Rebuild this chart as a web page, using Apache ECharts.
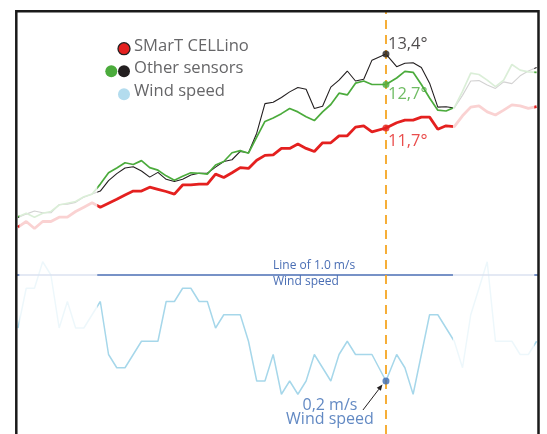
<!DOCTYPE html>
<html><head><meta charset="utf-8">
<script src="https://cdn.jsdelivr.net/npm/echarts/dist/echarts.min.js"></script>
<style>html,body{margin:0;padding:0;background:#fff}#c{width:547px;height:434px}</style>
</head><body><div id="c"></div>
<script>
// sample positions (the highlighted reading falls between two regular samples)
const sampleTimes = [0,1,2,3,4,5,6,7,8,9,10,11,12,13,14,15,16,17,18,19,20,21,22,23,24,25,26,27,28,29,30,31,32,33,34,35,36,37,38,39,40,41,42,43,44.7,46,47,48,49,50,51,52,53,54,55,56,57,58,59,60,61,62,63];
const smartCellino = [9.42,9.55,9.39,9.55,9.55,9.65,9.65,9.78,9.88,9.98,9.88,9.97,10.06,10.16,10.25,10.25,10.34,10.29,10.24,10.18,10.39,10.39,10.41,10.41,10.64,10.56,10.67,10.79,10.77,10.96,11.07,11.08,11.23,11.23,11.33,11.23,11.16,11.36,11.36,11.52,11.52,11.72,11.75,11.61,11.7,11.82,11.88,11.88,11.95,11.95,11.67,11.75,11.73,11.98,12.18,12.21,12.07,12.00,12.11,12.23,12.21,12.15,12.19];
const otherSensorGreen = [9.66,9.74,9.65,9.74,9.78,9.93,9.97,10.01,10.12,10.18,10.41,10.67,10.78,10.90,10.86,10.95,10.79,10.73,10.60,10.50,10.59,10.67,10.66,10.64,10.85,10.93,11.13,11.18,11.12,11.49,11.85,11.93,12.03,12.15,12.07,11.96,11.87,12.07,12.24,12.50,12.46,12.73,12.78,12.70,12.7,12.85,13.00,12.98,12.70,12.39,12.11,12.09,12.17,12.54,12.96,12.93,12.80,12.65,12.80,13.16,13.03,12.99,12.98];
const otherSensorBlack = [9.64,9.72,9.79,9.75,9.75,9.94,9.95,9.99,10.11,10.18,10.25,10.49,10.65,10.78,10.81,10.71,10.57,10.68,10.52,10.47,10.52,10.62,10.66,10.66,10.80,10.93,10.97,11.16,11.13,11.58,12.26,12.29,12.40,12.53,12.63,12.59,12.15,12.20,12.64,12.80,13.01,12.78,12.82,13.26,13.4,13.11,13.19,13.20,13.09,12.73,12.18,12.19,12.16,12.45,12.78,12.79,12.69,12.61,12.76,12.72,12.90,13.01,13.09];
const windSpeed = [0.6,0.9,0.9,1.1,1.0,0.6,0.8,0.6,0.6,0.7,0.8,0.4,0.3,0.3,0.4,0.5,0.5,0.5,0.8,0.8,0.9,0.9,0.8,0.8,0.6,0.7,0.7,0.7,0.5,0.2,0.2,0.4,0.1,0.2,0.1,0.2,0.4,0.3,0.2,0.4,0.5,0.4,0.4,0.4,0.2,0.4,0.3,0.1,0.4,0.7,0.7,0.6,0.5,0.3,0.7,0.9,1.1,0.5,0.5,0.5,0.4,0.4,0.5];
const markerIndex = 44;
const windReference = 1.0;
const highlightRange = [9.63, 52.84];
const fadeRange = [0.16, 62.72];
const legendLabels = ['SMarT CELLino', 'Other sensors', 'Wind speed'];
const refLabelLines = ['Line of 1.0 m/s', 'Wind speed'];

const FONT = '"Open Sans", "Noto Sans", sans-serif';
const C = { red:'#e4201f', green:'#4bab3c', black:'#231f20', wind:'#a6d7ea', windDot:'#3b6bb4', ref:'#4a6eb4', cursor:'#f6a623', legendText:'#666668', windLegend:'#b3dcee', frame:'#1a1a1a' };
const pair = arr => arr.map((v, i) => [sampleTimes[i], v]);
const fmtDeg = v => v.toFixed(1).replace('.', ',') + '°';
const tMark = sampleTimes[markerIndex];

const GRID = { left: 16.3, right: 8.5, top: 11.2, bottom: 0 };
const chart = echarts.init(document.getElementById('c'), null, {renderer:'canvas', width:547, height:434});
const option = {
  animation: false,
  backgroundColor: '#fff',
  grid: Object.assign({ show: false }, GRID),
  xAxis: { type: 'value', min: -0.2065, max: 63.231, show: false },
  yAxis: [
    { type: 'value', min: 4.665, max: 14.385, show: false },
    { type: 'value', min: -0.200, max: 2.991, show: false }
  ],
  series: [
    { name: 'wind', type: 'line', yAxisIndex: 1, data: pair(windSpeed), symbol: 'none', silent: true, z: 2,
      lineStyle: { color: C.wind, width: 1.5 },
      markLine: { silent: true, symbol: ['none', 'none'], label: { show: false },
        data: [
          { yAxis: windReference, lineStyle: { color: C.ref, width: 1.6, type: 'solid' } },
          { xAxis: tMark, lineStyle: { color: C.cursor, width: 1.8, type: [9, 6] } }
        ] },
      markArea: { silent: true, z: 10, label: { show: false }, itemStyle: { color: 'rgba(255,255,255,0.8)' },
        data: [
          [{ xAxis: fadeRange[0] }, { xAxis: highlightRange[0] }],
          [{ xAxis: highlightRange[1] }, { xAxis: fadeRange[1] }]
        ] } },
    { name: 'black', type: 'line', data: pair(otherSensorBlack), symbol: 'none', silent: true, z: 3, lineStyle: { color: C.black, width: 1.1 } },
    { name: 'green', type: 'line', data: pair(otherSensorGreen), symbol: 'none', silent: true, z: 4, lineStyle: { color: C.green, width: 1.7 } },
    { name: 'red', type: 'line', data: pair(smartCellino), symbol: 'none', silent: true, z: 5, lineStyle: { color: C.red, width: 2.8 } },
    { name: 'marks', type: 'scatter', yAxisIndex: 0, symbol: 'circle', symbolSize: 7, silent: true, z: 6,
      data: [
        { value: [tMark, otherSensorBlack[markerIndex]], itemStyle: { color: C.black },
          label: { show: true, position: 'right', distance: 0, offset: [-1.5, -10], formatter: fmtDeg(otherSensorBlack[markerIndex]), color: C.black, fontSize: 16.5, fontFamily: FONT } },
        { value: [tMark, otherSensorGreen[markerIndex]], itemStyle: { color: C.green },
          label: { show: true, position: 'right', distance: 0, offset: [-1.5, 9.5], formatter: fmtDeg(otherSensorGreen[markerIndex]), color: C.green, fontSize: 16.5, fontFamily: FONT } },
        { value: [tMark, smartCellino[markerIndex]], itemStyle: { color: C.red },
          label: { show: true, position: 'right', distance: 0, offset: [-1.5, 13], formatter: fmtDeg(smartCellino[markerIndex]), color: C.red, fontSize: 16.5, fontFamily: FONT } }
      ] },
    { name: 'windMark', type: 'scatter', yAxisIndex: 1, symbol: 'circle', symbolSize: 7, silent: true, z: 6,
      data: [{ value: [tMark, windSpeed[markerIndex]], itemStyle: { color: C.windDot },
        label: { show: true, position: 'inside', offset: [-56, 31], align: 'center', verticalAlign: 'middle',
          formatter: windSpeed[markerIndex].toFixed(1).replace('.', ',') + ' m/s\n' + legendLabels[2],
          color: C.windDot, fontSize: 16, lineHeight: 14, fontFamily: FONT } }] }
  ]
};
chart.setOption(option);

const P = chart.convertToPixel({ xAxisIndex: 0, yAxisIndex: 1 }, [tMark, windSpeed[markerIndex]]);
const refY = chart.convertToPixel({ xAxisIndex: 0, yAxisIndex: 1 }, [0, windReference])[1];
const T = [P[0] - 23, P[1] + 29], H = [P[0] - 3.5, P[1] + 3.5];
const dx = H[0] - T[0], dy = H[1] - T[1], L = Math.hypot(dx, dy), ux = dx / L, uy = dy / L;
const ah = 6, aw = 2.6;
const base = [H[0] - ux * ah, H[1] - uy * ah];
const legendText = (txt, y) => ({ type: 'text', left: 134, top: y - 11, z: 30,
  style: { text: txt, font: '16.6px ' + FONT, fill: C.legendText } });
const fl = GRID.left, fr = 547 - GRID.right, ft = GRID.top;
chart.setOption({
  graphic: [
    { type: 'polyline', z: 40, shape: { points: [[fl, 440], [fl, ft], [fr, ft], [fr, 440]] }, style: { stroke: C.frame, lineWidth: 2.5, fill: null } },
    { type: 'circle', shape: { cx: 124, cy: 48.7, r: 6 }, style: { fill: C.red, stroke: C.black, lineWidth: 1.3 }, z: 30 },
    { type: 'circle', shape: { cx: 111.3, cy: 71.2, r: 6 }, style: { fill: C.green }, z: 30 },
    { type: 'circle', shape: { cx: 124, cy: 71.2, r: 6 }, style: { fill: C.black }, z: 30 },
    { type: 'circle', shape: { cx: 124, cy: 94.2, r: 6 }, style: { fill: C.windLegend }, z: 30 },
    legendText(legendLabels[0], 48.7),
    legendText(legendLabels[1], 71.2),
    legendText(legendLabels[2], 94.2),
    { type: 'text', left: 273, top: refY - 15.5, z: 30, style: { text: refLabelLines[0], font: '12px ' + FONT, fill: C.ref } },
    { type: 'text', left: 273, top: refY + 0.5, z: 30, style: { text: refLabelLines[1], font: '12px ' + FONT, fill: C.ref } },
    { type: 'line', z: 30, shape: { x1: T[0], y1: T[1], x2: base[0], y2: base[1] }, style: { stroke: C.black, lineWidth: 1 } },
    { type: 'polygon', z: 30, shape: { points: [H, [base[0] - uy * aw, base[1] + ux * aw], [base[0] + uy * aw, base[1] - ux * aw]] }, style: { fill: C.black } }
  ]
});
</script>
</body></html>
